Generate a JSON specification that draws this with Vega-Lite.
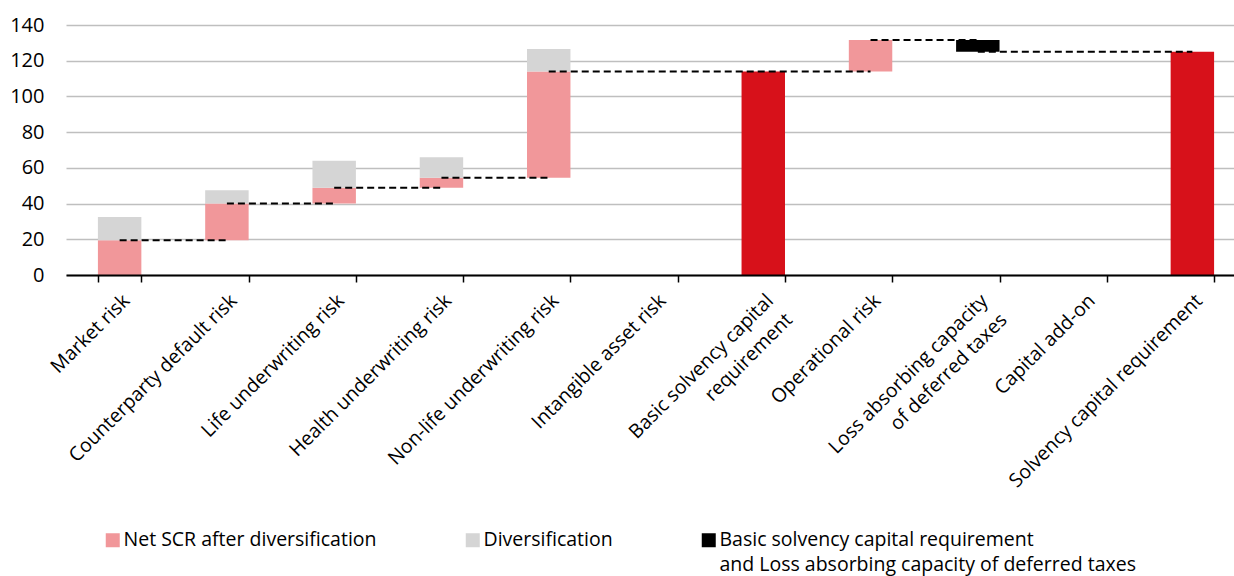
{
  "$schema": "https://vega.github.io/schema/vega-lite/v6.json",
  "width": 1180,
  "height": 250,
  "autosize": {"type": "none"},
  "padding": {"left": 66, "top": 25, "right": 0, "bottom": 301},
  "background": "white",
  "config": {"font": "Open Sans", "view": {"stroke": null}},
  "datasets": {
    "bars": [
      {"cat": "Market risk", "series": "Net SCR after diversification", "lo": 0, "hi": 19.5},
      {"cat": "Market risk", "series": "Diversification", "lo": 19.5, "hi": 32.5},
      {"cat": "Counterparty default risk", "series": "Net SCR after diversification", "lo": 19.5, "hi": 40},
      {"cat": "Counterparty default risk", "series": "Diversification", "lo": 40, "hi": 47.4},
      {"cat": "Life underwriting risk", "series": "Net SCR after diversification", "lo": 40, "hi": 48.9},
      {"cat": "Life underwriting risk", "series": "Diversification", "lo": 48.9, "hi": 64},
      {"cat": "Health underwriting risk", "series": "Net SCR after diversification", "lo": 48.9, "hi": 54.5},
      {"cat": "Health underwriting risk", "series": "Diversification", "lo": 54.5, "hi": 65.9},
      {"cat": "Non-life underwriting risk", "series": "Net SCR after diversification", "lo": 54.5, "hi": 113.9},
      {"cat": "Non-life underwriting risk", "series": "Diversification", "lo": 113.9, "hi": 126.6},
      {"cat": "Operational risk", "series": "Net SCR after diversification", "lo": 114, "hi": 131.6},
      {"cat": "Loss absorbing capacity of deferred taxes", "series": "Basic solvency capital requirement and Loss absorbing capacity of deferred taxes", "lo": 125, "hi": 131.6}
    ],
    "totals": [
      {"cat": "Basic solvency capital requirement", "lo": 0, "hi": 114},
      {"cat": "Solvency capital requirement", "lo": 0, "hi": 125}
    ],
    "connectors": [
      {"id": 1, "cat": "Market risk", "lo": 19.5},
      {"id": 1, "cat": "Counterparty default risk", "lo": 19.5},
      {"id": 2, "cat": "Counterparty default risk", "lo": 40},
      {"id": 2, "cat": "Life underwriting risk", "lo": 40},
      {"id": 3, "cat": "Life underwriting risk", "lo": 48.9},
      {"id": 3, "cat": "Health underwriting risk", "lo": 48.9},
      {"id": 4, "cat": "Health underwriting risk", "lo": 54.5},
      {"id": 4, "cat": "Non-life underwriting risk", "lo": 54.5},
      {"id": 5, "cat": "Non-life underwriting risk", "lo": 114},
      {"id": 5, "cat": "Operational risk", "lo": 114},
      {"id": 6, "cat": "Operational risk", "lo": 131.6},
      {"id": 6, "cat": "Loss absorbing capacity of deferred taxes", "lo": 131.6},
      {"id": 7, "cat": "Loss absorbing capacity of deferred taxes", "lo": 125},
      {"id": 7, "cat": "Solvency capital requirement", "lo": 125}
    ]
  },
  "encoding": {
    "x": {
      "field": "cat",
      "type": "nominal",
      "scale": {
        "domain": ["Market risk", "Counterparty default risk", "Life underwriting risk", "Health underwriting risk", "Non-life underwriting risk", "Intangible asset risk", "Basic solvency capital requirement", "Operational risk", "Loss absorbing capacity of deferred taxes", "Capital add-on", "Solvency capital requirement"],
        "paddingInner": 0.595,
        "paddingOuter": 0.2975
      },
      "axis": {
        "title": null,
        "zindex": 1,
        "domainColor": "black",
        "domainWidth": 2,
        "tickColor": "black",
        "tickWidth": 1.5,
        "tickSize": 7,
        "tickBand": "extent",
        "labelAngle": -45,
        "labelAlign": "right",
        "labelBaseline": "top",
        "labelPadding": 9,
        "labelFontSize": 19.5,
        "labelColor": "black",
        "labelLimit": 0,
        "labelLineHeight": 27,
        "labelOverlap": false,
        "labelExpr": "datum.value == 'Basic solvency capital requirement' ? ['Basic solvency capital', 'requirement'] : datum.value == 'Loss absorbing capacity of deferred taxes' ? ['Loss absorbing capacity', 'of deferred taxes'] : datum.label"
      }
    },
    "y": {
      "field": "lo",
      "type": "quantitative",
      "scale": {"domain": [0, 140], "nice": false},
      "axis": {
        "title": null,
        "domain": false,
        "ticks": false,
        "grid": true,
        "gridColor": "#BFBFBF",
        "gridWidth": 1.5,
        "values": [0, 20, 40, 60, 80, 100, 120, 140],
        "labelFontSize": 20,
        "labelColor": "black",
        "labelPadding": 22
      }
    }
  },
  "layer": [
    {
      "data": {"name": "bars"},
      "mark": {"type": "bar"},
      "encoding": {
        "y2": {"field": "hi"},
        "color": {
          "field": "series",
          "type": "nominal",
          "scale": {
            "domain": ["Net SCR after diversification", "Diversification", "Basic solvency capital requirement and Loss absorbing capacity of deferred taxes"],
            "range": ["#F1979A", "#D5D5D5", "#000000"]
          },
          "legend": {
            "orient": "none",
            "legendX": 37,
            "legendY": 508,
            "direction": "horizontal",
            "title": null,
            "symbolType": "square",
            "symbolSize": 196,
            "symbolStrokeWidth": 0,
            "labelFontSize": 19.5,
            "labelColor": "black",
            "columnPadding": 86,
            "labelOffset": 1,
            "labelLimit": 0,
            "labelBaseline": "top",
            "labelExpr": "datum.value == 'Basic solvency capital requirement and Loss absorbing capacity of deferred taxes' ? ['Basic solvency capital requirement', 'and Loss absorbing capacity of deferred taxes'] : [datum.label, ' ']",
            "encode": {
              "symbols": {"update": {"y": {"value": 7}}},
              "labels": {"update": {"y": {"value": 7}, "dy": {"value": -9}, "lineHeight": {"value": 25}}}
            }
          }
        }
      }
    },
    {
      "data": {"name": "totals"},
      "mark": {"type": "bar", "color": "#D7111A"},
      "encoding": {"y2": {"field": "hi"}}
    },
    {
      "data": {"name": "connectors"},
      "mark": {"type": "line", "color": "black", "strokeWidth": 2, "strokeDash": [7, 4]},
      "encoding": {"detail": {"field": "id", "type": "nominal"}}
    }
  ]
}
